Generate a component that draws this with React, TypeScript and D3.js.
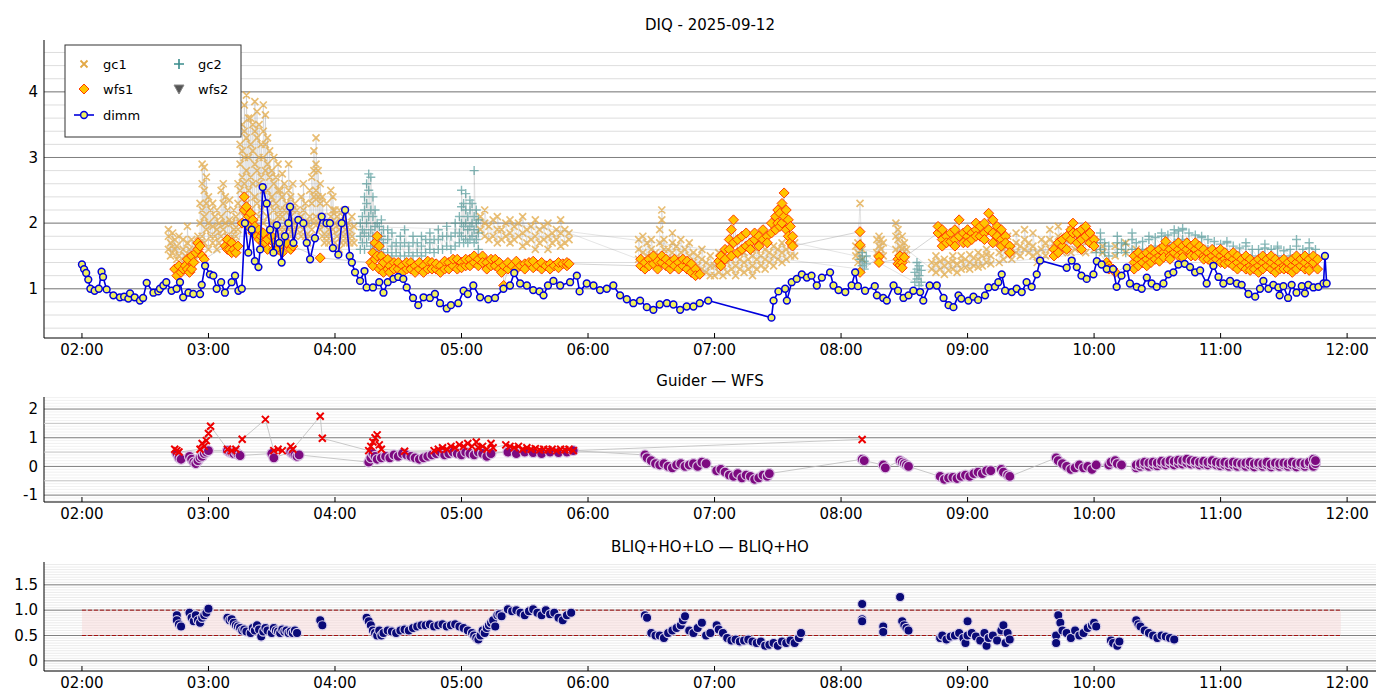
import React from "react";
import * as d3 from "d3";

// time in minutes since 02:00
type G = number[];
const dimm: G[] = [[0,1.37],[1,1.3],[2,1.24],[3,1.14],[4,1.0],[6,0.97],[8,1.0],[9.3,1.26],[10,1.18],[11.7,0.99],[14.9,0.9],[18,0.87],[20,0.88],[22,0.85],[22.8,0.93],[25,0.87],[27.5,0.82],[29,0.86],[30.7,1.09],[33.9,0.94],[36.2,0.96],[37,1.0],[38.6,1.05],[40,1.1],[42.5,0.97],[44.9,1.0],[46.5,1.1],[48,0.87],[50.5,0.94],[52.8,0.92],[56,0.92],[56.8,1.06],[58.4,1.35],[60.7,1.22],[62.3,1.2],[63.9,1.0],[66,1.1],[67.8,0.94],[71,1.1],[72.6,1.2],[74.2,0.97],[75.8,1.0],[77.3,2.0],[78.9,1.55],[80.5,1.9],[82,1.42],[83.7,1.33],[84.5,1.6],[85.7,2.55],[87.6,2.3],[89.2,1.9],[90.8,1.55],[92.4,1.97],[93.6,1.7],[94.7,1.4],[96.3,1.8],[97.9,2.0],[98.7,2.25],[100.3,1.7],[102.6,2.05],[105,2.0],[106.6,1.7],[108.2,1.45],[110.5,1.77],[113.7,2.1],[116,2.0],[117.6,2.0],[119,1.62],[121.6,1.52],[123.2,2.0],[124.8,2.2],[127,1.5],[128,1.4],[129.5,1.25],[131.9,1.12],[134,1.27],[135,1.02],[138,1.02],[141,1.1],[143,0.94],[145,1.1],[147.7,1.15],[150,1.18],[152.4,1.15],[154,1.02],[157,0.86],[159.5,0.75],[162,0.87],[165,0.86],[167.4,0.92],[169.8,0.78],[173,0.7],[175,0.75],[178.5,0.78],[181,0.97],[183,0.92],[185.6,1.05],[188.8,0.87],[192.7,0.84],[195.9,0.86],[199.9,1.0],[203,1.05],[205,1.24],[207.8,1.08],[211,1.05],[214,0.98],[217,0.96],[218.9,0.9],[221,1.05],[223.6,1.12],[226.8,1.05],[231.5,1.1],[234.7,1.2],[236,0.96],[239.4,1.08],[242.6,1.05],[245.7,0.98],[248.9,1.0],[252,1.05],[255.2,0.9],[258.4,0.84],[261.5,0.78],[264.7,0.82],[267.9,0.72],[271,0.68],[274,0.76],[277.4,0.78],[280.5,0.76],[283.7,0.68],[286.8,0.73],[290,0.73],[293,0.78],[297,0.82],[327,0.56],[328,0.82],[330.3,0.96],[333.5,1.0],[334.3,0.82],[336.6,1.1],[339,1.15],[341.4,1.22],[343.8,1.17],[346,1.2],[348.5,1.05],[350.9,1.17],[354.8,1.25],[356.4,1.05],[358.8,0.98],[362,0.95],[365,1.05],[366.7,1.25],[368,1.04],[371.4,0.97],[376,1.04],[377,0.9],[380,0.86],[381.7,0.82],[384.9,1.05],[387,0.97],[389.6,0.86],[392,0.9],[394.3,0.97],[397.5,0.95],[399,0.82],[402,1.05],[405.4,1.05],[408.6,0.86],[411,0.75],[413.3,0.72],[415.7,0.9],[417,0.85],[420.4,0.82],[422.8,0.88],[425,0.83],[428.3,0.9],[429.9,1.02],[433,1.03],[434.6,1.1],[436.2,1.22],[437.8,0.97],[441,0.95],[443.3,1.0],[445.7,0.95],[448,1.1],[450.4,1.03],[452.8,1.22],[454.4,1.43],[467,1.32],[469.4,1.43],[471.8,1.33],[474,1.2],[476.5,1.15],[479.7,1.22],[481.3,1.42],[483.6,1.37],[486,1.3],[489,1.3],[490.7,1.03],[493,1.2],[495.5,1.32],[497,1.08],[500.2,1.03],[502.6,1.0],[505,1.17],[507.3,1.08],[509.7,1.03],[512.9,1.08],[515.2,1.22],[517.6,1.25],[520,1.37],[523,1.38],[525.5,1.33],[527.9,1.25],[530.3,1.28],[533.4,1.08],[536.6,1.35],[539,1.18],[541.3,1.08],[544.5,1.12],[547.7,1.08],[550,1.06],[553.2,0.92],[556.4,0.88],[558.7,1.0],[560.3,1.12],[562.7,1.0],[565,1.06],[567.4,1.02],[568,0.9],[569.8,1.04],[572,0.86],[573.7,1.06],[576,0.94],[578.5,1.04],[580,0.93],[581.6,1.06],[584,1.02],[586.4,1.03],[588.8,1.08],[589.5,1.5],[590.3,1.08]];

const gc1: G[] = [[41,1.6,1.8,1.9],[42,1.5,1.7],[43,1.55,1.85],[44,1.6,1.75],[45,1.45,1.65],[46,1.5,1.8],[48,1.4,1.6,1.75],[49,1.3,1.5],[50,1.35,1.7,1.95],[51,1.4,1.6],[52,1.3,1.5,1.75],[54,1.45,1.65],[55,1.5,1.8],
[56,1.7,2.0,2.3],[57,1.8,2.2,2.6,2.9],[58,1.7,2.1,2.5,2.85],[59,1.9,2.3,2.7],[60,1.6,2.0,2.4],[61,1.8,2.2],[62,1.7,1.95,2.3],[63,1.8,2.1],[64,1.6,1.9,2.2],[65,1.7,2.0],[66,1.8,2.1,2.5],[67,1.9,2.3,2.6],[68,1.7,2.0,2.4],[69,1.8,2.2],[70,1.75,2.05,2.35],[71,1.8,2.0],[72,1.7,1.9,2.2],[73,1.8,2.1],[74,1.9,2.3,2.6],
[75,2.0,2.5,2.9,3.2],[76,2.2,2.7,3.1,3.5],[77,2.1,2.6,3.0,3.4,3.8],[78,2.3,2.8,3.3,3.95],[79,2.0,2.5,3.0,3.6],[80,2.2,2.7,3.2,3.6],[81,2.1,2.6,3.1,3.5],[82,2.0,2.4,2.9,3.4,3.85],[83,2.3,2.8,3.3,3.7],[84,2.1,2.6,3.0,3.5],[85,2.2,2.7,3.2],[86,2.0,2.5,3.0,3.4,3.8],[87,2.3,2.8,3.2,3.65],[88,2.1,2.5,2.9,3.3],[89,1.9,2.3,2.7,3.1],[90,2.0,2.4,2.8],[91,1.9,2.2,2.6,3.0],[92,2.0,2.3,2.7],[93,1.8,2.1,2.5,2.9],[94,1.9,2.2,2.5],[95,1.8,2.1,2.4,2.75],[96,1.9,2.2,2.6],[97,1.8,2.0,2.3],[98,1.9,2.2,2.5,2.9],[99,1.8,2.1,2.4],[100,1.9,2.2,2.6],[101,1.8,2.0,2.3],[102,1.9,2.2],
[104,1.8,2.1,2.4],[105,1.9,2.2,2.6],[106,1.8,2.0,2.3],[107,1.7,2.0],[108,1.8,2.1,2.5],[109,1.9,2.3,2.7],[110,2.0,2.4,2.8,3.1],[111,2.1,2.5,2.9,3.3],[112,2.0,2.4,2.8],[113,1.9,2.3,2.6],[114,1.8,2.1,2.4],[115,1.7,2.0],[116,1.8,2.0,2.3],[117,1.7,1.9],[118,1.8,2.1,2.5],[119,1.9,2.2,2.4],[120,1.7,2.0,2.2],[121,1.8,2.1],[122,1.6,1.9,2.2],[123,1.7,2.0],[124,1.8,2.1],[125,1.7,1.9,2.2],[126,1.8,2.0],[127,1.7,1.9],[128,1.8,2.1],[129,1.7,1.95],
[189,1.9,2.1],[191,1.8,2.0,2.2],[193,1.75,1.95],[195,1.8,2.05],[197,1.7,1.9,2.1],[199,1.75,1.9],[201,1.8,2.0],[203,1.7,1.85,2.05],[205,1.75,1.95],[207,1.8,2.0],[209,1.65,1.85,2.1],[211,1.7,1.9],[213,1.75,1.95],[215,1.6,1.8,2.05],[217,1.7,1.9],[219,1.75,1.95],[221,1.6,1.8,2.0],[223,1.7,1.85],[225,1.75,1.9],[227,1.65,1.85,2.05],[229,1.7,1.9],[231,1.75,1.85],
[264,1.45,1.6,1.75],[266,1.4,1.55,1.8],[268,1.5,1.7],[270,1.45,1.6,1.75],[272,1.4,1.55],[274,1.5,1.7,1.9],[275,2.05,2.2],[276,1.4,1.6,1.75],[278,1.45,1.6],[280,1.4,1.55,1.7,1.85],[282,1.45,1.65],[284,1.4,1.55,1.75],[286,1.45,1.6],[288,1.35,1.5,1.7],[290,1.4,1.55],[292,1.35,1.5],[294,1.3,1.45,1.6],[296,1.25,1.4],[298,1.2,1.35,1.5],[300,1.2,1.35],[302,1.25,1.4,1.55],[304,1.2,1.35],[306,1.25,1.4,1.5],[308,1.3,1.45],[310,1.2,1.35,1.5],[312,1.3,1.45],[314,1.25,1.4,1.55],[316,1.3,1.45],[318,1.2,1.35,1.5],[320,1.3,1.45,1.6],[322,1.35,1.5],[324,1.3,1.45,1.6],[326,1.4,1.55],[328,1.35,1.5,1.65],[330,1.45,1.6],[332,1.4,1.55,1.7],[334,1.45,1.6],[336,1.5,1.65,1.8],[338,1.5,1.7],
[367,1.5,1.65],[368,1.4,1.55,1.7],[369,2.3],[370,1.45,1.6],[377,1.55,1.75],[378,1.5,1.65,1.8],[379,1.6,1.75],[380,1.5,1.7],[386,1.6,1.8,2.0],[387,1.55,1.75,1.9],[388,1.5,1.65],[389,1.45,1.6,1.8],[390,1.5,1.7],[391,1.45,1.6],
[403,1.3,1.4],[405,1.25,1.38,1.5],[407,1.3,1.42],[409,1.22,1.35,1.45],[411,1.28,1.4],[413,1.3,1.42,1.5],[415,1.25,1.38],[417,1.3,1.42,1.5],[419,1.32,1.45],[421,1.3,1.4,1.52],[423,1.35,1.47],[425,1.33,1.45,1.55],[427,1.35,1.5],[429,1.4,1.52,1.6],[431,1.38,1.5],
[435,1.4,1.55,1.7],[437,1.45,1.6],[439,1.5,1.65,1.8],[441,1.45,1.6],[443,1.55,1.7,1.85],[445,1.5,1.65],[447,1.6,1.75,1.9],[449,1.55,1.7],[451,1.5,1.65,1.85],[453,1.4,1.55],[455,1.45,1.6,1.75],[457,1.5,1.7],[459,1.6,1.75,1.9],[461,1.55,1.7],[463,1.6,1.8,1.95],[465,1.55,1.75],[467,1.6,1.8],[469,1.55,1.75,1.9],[471,1.6,1.8],
[476,1.55,1.7],[480,1.6,1.75],[484,1.55,1.65],[490,1.5,1.65],[495,1.55,1.7],[500,1.5,1.6]];

const gc2: G[] = [[132,1.6,1.8,2.0],[133,1.7,1.9,2.1],[134,1.6,1.85,2.2,2.4],[135,1.7,2.0,2.3,2.6],[136,1.8,2.1,2.5,2.75],[137,1.65,1.9,2.2,2.7],[138,1.6,1.8,2.1,2.4],[139,1.7,1.95,2.2],[140,1.6,1.8,2.0],[141,1.55,1.75,1.95],[142,1.6,1.8,2.05],[143,1.5,1.7,1.9],[145,1.55,1.75,1.9],[147,1.5,1.65,1.85],[149,1.55,1.7],[151,1.5,1.65,1.8],[153,1.5,1.7,1.9],[155,1.55,1.65],[157,1.5,1.7,1.8],[159,1.55,1.7],[161,1.5,1.65,1.8],[163,1.55,1.75],[165,1.6,1.7,1.85],[167,1.55,1.75],[169,1.6,1.75,1.9],[171,1.6,1.8],[173,1.65,1.8,1.95],[175,1.6,1.8],[177,1.65,1.85,2.0],[179,1.7,1.85,2.1],[180,1.8,2.0,2.25,2.5],[181,1.7,1.95,2.3],[182,1.75,2.0,2.2,2.45],[183,1.7,1.9,2.1],[184,1.75,1.95,2.2,2.35],[185,1.8,2.0,2.3],[186,1.7,1.9,2.1,2.8],[187,1.75,2.0,2.2],[188,1.6,1.85,2.05],
[369,1.3,1.45],[370,1.35,1.5,1.55],[371,1.3,1.42],[372,1.38,1.5],[395,1.1,1.25],[396,1.15,1.3,1.4],[397,1.05,1.2,1.35],[398,1.1,1.28],
[481,1.55,1.7],[483,1.6,1.75,1.85],[485,1.55,1.7],[487,1.5,1.65],[491,1.55,1.7,1.8],[493,1.6,1.7],[495,1.55,1.68],[498,1.6,1.75,1.85],[500,1.55,1.7],[503,1.6,1.72],[506,1.6,1.75,1.8],[509,1.65,1.78],[512,1.65,1.8,1.85],[515,1.7,1.82],[518,1.7,1.85,1.9],[520,1.75,1.88],[522,1.75,1.9,1.92],[525,1.7,1.85],[528,1.7,1.82],[531,1.65,1.78,1.8],[534,1.6,1.75],[537,1.6,1.72],[540,1.55,1.68],[543,1.55,1.7,1.72],[546,1.5,1.65],[549,1.5,1.62],[552,1.5,1.65,1.7],[555,1.5,1.6],[558,1.45,1.6],[561,1.5,1.62,1.68],[564,1.45,1.6],[567,1.5,1.62,1.65],[570,1.45,1.58],[573,1.5,1.6],[576,1.5,1.65,1.75],[579,1.45,1.6],[582,1.5,1.62,1.7],[585,1.5,1.6]];

const wfs1: G[] = [[44,1.3],[45,1.2],[46,1.35],[47,1.25],[48,1.3],[49,1.35],[50,1.3,1.45],[51,1.25],[52,1.3,1.5],[53,1.4],[54,1.55],[55,1.6,1.7],[56,1.65],[57,1.5],[58,1.45],
[68,1.65],[69,1.75,1.6],[70,1.6],[71,1.7,1.55],[72,1.6],[73,1.55],[74,1.65],
[76,2.0],[77,2.4,2.2],[78,2.25],[79,2.1,1.95],[80,2.15],[81,2.05,1.85],[82,1.95],[83,1.8],[84,1.9,1.75],[85,1.8],[86,1.85,1.7],[87,1.7],[88,1.75,1.6],[90,1.8],[91,1.7,1.6],[92,1.65],[93,1.6],[95,1.65,1.55],[97,1.7],[99,1.6],[100,1.65],
[113,1.47],
[137,1.4],[138,1.55,1.35],[139,1.7,1.45],[140,1.8,1.5],[141,1.65,1.3],[142,1.5,1.35],[143,1.4,1.25],[145,1.45,1.3],[146,1.35,1.25],[148,1.4,1.3],[150,1.3,1.4],[152,1.35,1.25],[154,1.3,1.4],[156,1.4,1.3],[158,1.35,1.25],[160,1.3,1.4],[162,1.35,1.25],[164,1.3,1.42],[166,1.4,1.3],[168,1.3,1.38],[170,1.35,1.25],[172,1.3,1.42],[174,1.4,1.3],[176,1.35,1.45],[178,1.45,1.3],[180,1.4,1.32],[182,1.35,1.45],[184,1.45,1.35],[186,1.4,1.5],[188,1.35,1.45],[190,1.5,1.4],[192,1.4,1.3],[194,1.35,1.45],[196,1.45,1.35],[198,1.4,1.3],
[199,1.25],[200,1.35,1.05],[202,1.3,1.4],[204,1.35],[206,1.3,1.42],[208,1.35],[210,1.38,1.3],[212,1.4],[214,1.32,1.42],[216,1.35],[218,1.3,1.4],[220,1.35],[222,1.38,1.3],[224,1.35],[226,1.32,1.4],[228,1.38],[230,1.35,1.4],[231,1.38],
[265,1.35,1.45],[267,1.3,1.4],[269,1.45,1.35],[271,1.38,1.5],[273,1.3,1.42],[275,1.4,1.5],[277,1.35,1.45],[279,1.3,1.4],[281,1.45,1.35],[283,1.4,1.3],[285,1.35,1.45],[287,1.3,1.42],[289,1.25,1.38],[291,1.3,1.2],[293,1.22],
[302,1.42],[303,1.35,1.5],[305,1.45,1.6],[307,1.6,1.75],[308,1.9,1.5],[309,1.7,2.05],[311,1.55,1.75],[313,1.6,1.8],[315,1.65,1.85],[317,1.7,1.6],[319,1.75,1.85],[321,1.65,1.8],[323,1.75,1.9],[325,1.8,1.7],[327,1.85,2.0],[329,1.9,2.1],[330,2.0,2.2],[331,2.15,1.95],[332,2.3,2.0],[333,2.46,2.1],[334,2.2,1.9],[335,2.05,1.8],[336,1.95,1.7],[337,1.8,1.65],
[369,1.87,1.67,1.25],[378,1.49,1.4],[387,1.45,1.38],[388,1.5,1.36],[389,1.4,1.32],[390,1.48],
[406,1.85,1.95],[408,1.75,1.9,1.65],[410,1.8,1.7],[412,1.85,1.72],[414,1.9,1.75,1.65],[416,2.05,1.8],[418,1.85,1.7],[420,1.8,1.9,1.7],[422,1.85,1.75],[424,1.9,1.8,2.0],[426,1.95,1.8],[428,2.0,1.85,1.75],[430,2.15,1.9],[432,2.05,1.85,1.7],[434,1.95,1.8],[436,1.9,1.75,1.65],[438,1.8,1.7],[440,1.65,1.55],
[461,1.6,1.5],[463,1.55,1.7],[465,1.65,1.75],[467,1.8,1.6],[469,1.9,1.75],[470,2.0,1.85],[472,1.85,1.7],[474,1.9,1.75,1.6],[476,1.8,1.95],[478,1.85,1.7],[480,1.75,1.65],
[486,1.4],[487,1.35,1.3],[489,1.3],[490,1.25],
[499,1.4,1.3,1.5],[501,1.45,1.35,1.55],[503,1.5,1.4],[505,1.45,1.55,1.35],[507,1.5,1.4,1.6],[509,1.55,1.45],[511,1.5,1.6,1.42],[513,1.55,1.65,1.48],[514,1.72],[516,1.6,1.5,1.45],[518,1.55,1.65],[520,1.6,1.5,1.7],[522,1.55,1.65,1.48],[524,1.6,1.7],[526,1.55,1.65,1.5],[528,1.6,1.7,1.5],[530,1.55,1.65],[532,1.5,1.6,1.45],[534,1.55,1.45],[536,1.5,1.6,1.4],[538,1.45,1.55],[540,1.5,1.4,1.6],[542,1.45,1.55,1.38],[544,1.4,1.5],[546,1.45,1.35,1.55],[548,1.4,1.5,1.3],[550,1.35,1.45],[552,1.4,1.3,1.5],[554,1.35,1.45,1.28],[556,1.4,1.3],[558,1.35,1.45,1.25],[560,1.4,1.3,1.5],[562,1.35,1.45],[564,1.3,1.4,1.5],[566,1.35,1.25,1.45],[568,1.4,1.3],[570,1.35,1.45,1.3],[572,1.3,1.4],[574,1.35,1.45,1.25],[576,1.4,1.5,1.3],[578,1.35,1.45],[580,1.3,1.4,1.5],[582,1.35,1.45,1.28],[584,1.4,1.5],[586,1.45,1.3]];

const guider: G[] = [[45,0.45],[46,0.3],[47,0.25],[51,0.35],[52,0.25],[53,0.15],[54,0.1],[55,0.2],[56,0.3],[57,0.35],[58,0.45],[59,0.5],[60,0.55],[69,0.55],[70,0.5],[71,0.48],[72,0.45],[73,0.5],[74,0.42],[75,0.38],[90,0.45],[91,0.3],[99,0.5],[100,0.45],[101,0.4],[102,0.35],[103,0.4],
[136,0.15],[137,0.3],[138,0.45],[139,0.35],[140,0.25],[142,0.3],[144,0.35],[146,0.3],[148,0.4],[150,0.35],[152,0.45],[154,0.4],[156,0.35],[158,0.3],[160,0.25],[162,0.3],[164,0.35],[166,0.4],[168,0.45],[170,0.5],[172,0.4],[174,0.45],[176,0.5],[178,0.45],[180,0.4],[182,0.5],[184,0.45],[186,0.4],[188,0.5],[190,0.45],[192,0.35],[194,0.45],
[202,0.5],[206,0.45],[210,0.5],[214,0.48],[218,0.45],[222,0.5],[226,0.48],[230,0.5],[233,0.55],
[267,0.4],[268,0.3],[270,0.2],[272,0.1],[274,0.05],[276,0.1],[278,0.0],[280,-0.05],[282,0.05],[284,0.1],[286,0.0],[288,0.05],[290,0.1],[292,0.0],[294,0.15],[296,0.1],
[301,-0.15],[303,-0.1],[305,-0.2],[307,-0.3],[309,-0.35],[311,-0.25],[313,-0.4],[315,-0.3],[317,-0.35],[319,-0.45],[321,-0.4],[323,-0.3],[325,-0.35],[326,-0.25],
[370,0.25],[371,0.2],[380,0.05],[381,-0.05],[388,0.2],[389,0.15],[390,0.1],[391,0.05],[392,0.0],
[407,-0.35],[409,-0.45],[411,-0.4],[413,-0.38],[415,-0.42],[417,-0.35],[419,-0.3],[421,-0.35],[423,-0.25],[425,-0.2],[427,-0.25],[429,-0.15],[431,-0.15],[436,-0.1],[437,-0.2],[439,-0.3],[440,-0.35],
[462,0.3],[463,0.2],[465,0.1],[467,0.0],[469,-0.1],[471,-0.05],[473,0.05],[475,-0.05],[477,0.0],[479,-0.1],[481,0.05],[487,0.05],[488,0.15],[490,0.2],[491,0.1],[493,0.05],
[500,-0.05,0.05],[502,0.0,0.1],[504,0.05,0.15],[506,0.0,0.12],[508,0.05,0.15],[510,0.02,0.12],[512,0.08,0.18],[514,0.05,0.15],[516,0.1,0.2],[518,0.05,0.18],[520,0.1,0.22],[522,0.08,0.2],[524,0.12,0.25],[526,0.08,0.2],[528,0.1,0.18],[530,0.05,0.15],[532,0.08,0.18],[534,0.05,0.15],[536,0.1,0.2],[538,0.05,0.15],[540,0.02,0.12],[542,0.05,0.15],[544,0.0,0.1],[546,0.05,0.15],[548,0.0,0.12],[550,0.05,0.1],[552,0.0,0.12],[554,0.05,0.15],[556,-0.02,0.1],[558,0.05,0.12],[560,0.0,0.1],[562,0.05,0.15],[564,-0.02,0.08],[566,0.05,0.12],[568,0.0,0.1],[570,0.05,0.12],[572,0.0,0.1],[574,0.05,0.15],[576,-0.02,0.1],[578,0.05,0.12],[580,0.0,0.1],[582,0.08,0.15],[584,0.0,0.25],[585,0.1,0.2]];

const guiderWfs: G[] = [[44,0.6],[45,0.55],[46,0.5],[56,0.6],[57,0.8],[58,0.7],[59,0.9],[60,1.15],[61,1.4],[69,0.6],[71,0.55],[73,0.6],[76,0.95],[87,1.64],[91,0.55],[93,0.6],[95,0.55],[99,0.7],[100,0.6],[113,1.75],[114,0.98],
[136,0.55],[137,0.7],[138,0.85],[139,1.0],[140,1.1],[141,0.75],[142,0.6],[153,0.53],
[167,0.55],[169,0.6],[171,0.65],[173,0.6],[175,0.7],[177,0.65],[179,0.75],[181,0.7],[183,0.8],[185,0.7],[187,0.85],[188,0.65],[190,0.7],[192,0.6],[194,0.8],[195,0.65],
[201,0.75],[203,0.7],[205,0.65],[207,0.7],[209,0.6],[211,0.65],[213,0.6],[215,0.62],[217,0.58],[219,0.6],[221,0.58],[223,0.6],[225,0.55],[227,0.6],[229,0.58],[231,0.6],[233,0.55],[370,0.94]];

const bliq: G[] = [[45,0.9,0.8],[46,0.72],[47,0.68],[51,0.95],[52,0.85],[53,0.78],[54,0.9],[55,0.8],[56,0.75],[57,0.85],[58,0.9],[59,0.95],[60,1.03],
[69,0.85],[70,0.8],[71,0.82],[72,0.75],[73,0.7],[74,0.68],[75,0.65],[76,0.6],[77,0.62],[78,0.58],[80,0.55],[81,0.65],[82,0.6],[83,0.7],[84,0.62],[85,0.48],[86,0.58],[87,0.65],[88,0.6],[90,0.55],[91,0.65],[92,0.6],[93,0.58],[94,0.55],[95,0.62],[96,0.58],[97,0.6],[98,0.55],[99,0.58],[100,0.55],[101,0.6],[102,0.55],
[113,0.8],[114,0.7],
[135,0.85],[136,0.78],[137,0.7],[138,0.6],[139,0.55],[140,0.5],[141,0.6],[142,0.5],[143,0.55],[145,0.6],[147,0.58],[149,0.55],[151,0.6],[153,0.62],[155,0.6],[157,0.65],[159,0.68],[161,0.7],[163,0.7],[165,0.72],[167,0.68],[169,0.7],[171,0.72],[173,0.68],[175,0.7],[177,0.72],[179,0.68],[181,0.65],[183,0.6],[185,0.55],[186,0.5],[187,0.45],[188,0.42],[189,0.5],[190,0.6],[191,0.55],[192,0.65],[193,0.7],[194,0.75],[195,0.8],[196,0.68],[197,0.9],[198,0.92],[199,0.88],
[202,1.02],[204,0.98],[206,1.0],[208,0.95],[210,0.9],[212,0.98],[214,1.02],[216,0.95],[218,0.9],[220,1.0],[222,0.92],[224,0.95],[226,0.85],[228,0.8],[230,0.9],[232,0.95],
[267,0.9],[268,0.85],[270,0.55],[272,0.5],[274,0.5],[276,0.45],[278,0.55],[280,0.6],[282,0.65],[284,0.7],[285,0.8],[286,0.88],[288,0.6],[290,0.55],[292,0.65],[294,0.75],[296,0.5],[298,0.55],
[301,0.7],[302,0.62],[304,0.55],[306,0.45],[308,0.4],[310,0.42],[312,0.38],[314,0.4],[316,0.42],[318,0.38],[320,0.35],[322,0.38],[324,0.3],[326,0.32],[328,0.35],[330,0.3],[332,0.38],[334,0.35],[336,0.4],[338,0.35],[340,0.45],[341,0.55],
[370,1.12,0.82,0.78],[380,0.68,0.57],[388,1.26],[389,0.78],[390,0.7],[391,0.65],[392,0.6],
[407,0.45],[408,0.5],[410,0.42],[412,0.48],[414,0.5],[416,0.55],[418,0.45],[419,0.35],[420,0.5,0.78],[422,0.55],[424,0.48],[426,0.4],[428,0.55],[429,0.3],[430,0.45],[432,0.5],[434,0.4],[436,0.6],[437,0.7],[438,0.35],[439,0.55],[440,0.42],
[462,0.5,0.35],[463,0.9],[464,0.75],[465,0.6],[467,0.55],[469,0.45],[471,0.6],[473,0.5],[475,0.55],[477,0.65],[479,0.7],[480,0.75],[481,0.68],
[488,0.4],[489,0.35],[491,0.3],[492,0.38],
[500,0.8],[501,0.72],[502,0.68],[504,0.6],[506,0.55],[508,0.5],[510,0.45],[512,0.5],[514,0.48],[516,0.45],[518,0.42]];

const xTicks = [0, 60, 120, 180, 240, 300, 360, 420, 480, 540, 600];
const y1Ticks = [1, 2, 3, 4];
const y2Ticks = [-1, 0, 1, 2];
const y3Ticks = [0, 0.5, 1.0, 1.5];
const y3Labels = ["0", "0.5", "1.0", "1.5"];
const band = [0.5, 1.0];
const bandSpan = [0, 597];

const flat = (g: G[]) => g.flatMap(r => r.slice(1).map(v => [r[0], v] as [number, number]));
const fmt = (m: number) => String(2 + m / 60).padStart(2, "0") + ":00";

const L = 44, R = 1376;
const x = d3.scaleLinear().domain([-18, 613.7]).range([L, R]);
const y1 = d3.scaleLinear().domain([0.25, 4.79]).range([338, 40]);
const y2 = d3.scaleLinear().domain([-1.24, 2.42]).range([502, 397]);
const y3 = d3.scaleLinear().domain([-0.2, 1.95]).range([671, 562]);
const FONT = "DejaVu Sans, sans-serif";

function Frame({ y, ticks, labels, major, minor, minorColor, title, titleY }: any) {
  const [b, t] = y.range();
  const [d0, d1] = y.domain();
  const minorVals = d3.range(Math.ceil(d0 / minor) * minor, d1, minor);
  return (
    <g fontFamily={FONT}>
      {minorVals.map((v: number, i: number) => <line key={"m" + i} x1={L} x2={R} y1={y(v)} y2={y(v)} stroke={minorColor} strokeWidth={0.8} />)}
      {major.map((v: number, i: number) => <line key={"M" + i} x1={L} x2={R} y1={y(v)} y2={y(v)} stroke="#808080" strokeWidth={1} />)}
      <line x1={L} x2={L} y1={t} y2={b} stroke="#000" />
      <line x1={L} x2={R} y1={b} y2={b} stroke="#000" />
      {ticks.map((v: number, i: number) => <text key={"y" + i} x={L - 6} y={y(v)} dy="0.35em" textAnchor="end" fontSize={15}>{labels ? labels[i] : v}</text>)}
      {xTicks.map(m => <g key={m}><line x1={x(m)} x2={x(m)} y1={b} y2={b - 5} stroke="#000" /><text x={x(m)} y={b + 17} textAnchor="middle" fontSize={15}>{fmt(m)}</text></g>)}
      <text x={(L + R) / 2} y={titleY} textAnchor="middle" fontSize={15}>{title}</text>
    </g>
  );
}

const xm = (cx: number, cy: number, s: number) => `M${cx - s},${cy - s}L${cx + s},${cy + s}M${cx - s},${cy + s}L${cx + s},${cy - s}`;
const pm = (cx: number, cy: number, s: number) => `M${cx - s},${cy}L${cx + s},${cy}M${cx},${cy - s}L${cx},${cy + s}`;
const dm = (cx: number, cy: number, s: number) => `M${cx},${cy - s}L${cx + s},${cy}L${cx},${cy + s}L${cx - s},${cy}Z`;

export default function App() {
  const p1 = flat(gc1), p2 = flat(gc2), p3 = flat(wfs1), pd = flat(dimm);
  const line1 = d3.line<[number, number]>().x(d => x(d[0])).y(d => y1(d[1]));
  const line2 = d3.line<[number, number]>().x(d => x(d[0])).y(d => y2(d[1]));
  const g = flat(guider), gw = flat(guiderWfs), bl = flat(bliq);
  return (
    <svg width={1400} height={700} style={{ position: "absolute", left: 0, top: 0, background: "#fff" }}>
      <Frame y={y1} ticks={y1Ticks} major={y1Ticks} minor={0.2} minorColor="#d4d4d4" title="DIQ - 2025-09-12" titleY={30} />
      <Frame y={y2} ticks={y2Ticks} major={y2Ticks} minor={0.1} minorColor="#ededed" title="Guider — WFS" titleY={386} />
      {[-0.5, 0.5, 1.5].map(v => <line key={v} x1={L} x2={R} y1={y2(v)} y2={y2(v)} stroke="#c8c8c8" />)}
      <Frame y={y3} ticks={y3Ticks} labels={y3Labels} major={y3Ticks} minor={0.05} minorColor="#e6e6e6" title="BLIQ+HO+LO — BLIQ+HO" titleY={552} />

      {/* panel 1 */}
      <path d={line1(p1) || ""} fill="none" stroke="#999" strokeWidth={0.5} opacity={0.5} />
      <path d={p1.map(d => xm(x(d[0]), y1(d[1]), 3.5)).join("")} stroke="#e2a846" strokeWidth={1.7} opacity={0.75} fill="none" />
      <path d={line1(p2) || ""} fill="none" stroke="#999" strokeWidth={0.5} opacity={0.5} />
      <path d={p2.map(d => pm(x(d[0]), y1(d[1]), 4.5)).join("")} stroke="#3a8c8c" strokeWidth={1.4} opacity={0.6} fill="none" />
      <path d={line1(p3) || ""} fill="none" stroke="#aaa" strokeWidth={0.7} opacity={0.7} />
      {p3.map((d, i) => <path key={i} d={dm(x(d[0]), y1(d[1]), 5)} fill="#ffc400" stroke="#ff3c00" strokeWidth={1} />)}
      <path d={line1(pd) || ""} fill="none" stroke="#0000dd" strokeWidth={1.6} />
      {pd.map((d, i) => <circle key={i} cx={x(d[0])} cy={y1(d[1])} r={3.4} fill="#f0f060" stroke="#0000dd" strokeWidth={1.5} />)}

      {/* legend */}
      <g fontFamily={FONT} fontSize={13}>
        <rect x={65} y={45} width={176} height={92} fill="#fff" stroke="#333" strokeWidth={1} />
        <path d={xm(84, 64, 3.5)} stroke="#e2a846" strokeWidth={1.8} />
        <text x={103} y={69}>gc1</text>
        <path d={pm(179, 64, 5)} stroke="#3a8c8c" strokeWidth={1.6} />
        <text x={198} y={69}>gc2</text>
        <path d={dm(84, 89, 5)} fill="#ffc400" stroke="#ff3c00" />
        <text x={103} y={94}>wfs1</text>
        <path d="M174,85L184,85L179,94Z" fill="#555" stroke="#888" />
        <text x={198} y={94}>wfs2</text>
        <line x1={74} x2={94} y1={115} y2={115} stroke="#0000dd" strokeWidth={1.6} />
        <circle cx={84} cy={115} r={3.4} fill="#f0f060" stroke="#0000dd" strokeWidth={1.5} />
        <text x={103} y={120}>dimm</text>
      </g>

      {/* panel 2 */}
      <path d={line2(g) || ""} fill="none" stroke="#bbb" strokeWidth={0.8} />
      <path d={line2(gw) || ""} fill="none" stroke="#bbb" strokeWidth={0.8} />
      {g.map((d, i) => <circle key={i} cx={x(d[0])} cy={y2(d[1])} r={5} fill="#7d0a80" stroke="#d9c2e2" strokeWidth={1.2} />)}
      <path d={gw.map(d => xm(x(d[0]), y2(d[1]), 3.5)).join("")} stroke="#ee0000" strokeWidth={2} fill="none" />

      {/* panel 3 */}
      <rect x={x(bandSpan[0])} width={x(bandSpan[1]) - x(bandSpan[0])} y={y3(band[1])} height={y3(band[0]) - y3(band[1])} fill="#f8d8d8" opacity={0.5} />
      {band.map(v => <line key={v} x1={x(bandSpan[0])} x2={x(bandSpan[1])} y1={y3(v)} y2={y3(v)} stroke="#a01010" strokeDasharray="4,2" strokeWidth={1} />)}
      {bl.map((d, i) => <circle key={i} cx={x(d[0])} cy={y3(d[1])} r={4.6} fill="#0a0a78" stroke="#d8d0ea" strokeWidth={1.2} />)}
    </svg>
  );
}
